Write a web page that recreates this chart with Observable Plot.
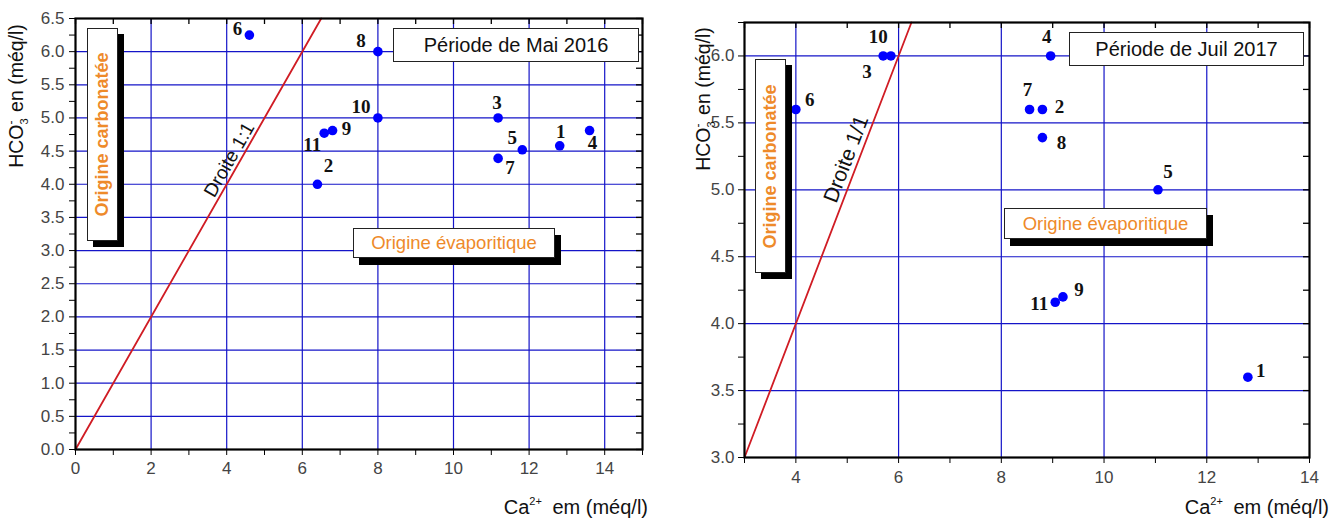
<!DOCTYPE html>
<html>
<head>
<meta charset="utf-8">
<script src="https://cdn.jsdelivr.net/npm/d3@7"></script>
<script src="https://cdn.jsdelivr.net/npm/@observablehq/plot@0.6"></script>
<style>
  html, body { margin: 0; padding: 0; background: #fff; }
  #root { position: relative; width: 1333px; height: 518px; overflow: hidden; background: #fff;
          font-family: "Liberation Sans", Arial, sans-serif; }
  .panel { position: absolute; top: 0; }
  .box { position: absolute; background: #fff; border: 1px solid #222; box-sizing: border-box;
         display: flex; align-items: center; justify-content: center; white-space: nowrap; }
  .shadow { position: absolute; background: #000; }
  .periode { font-size: 20px; color: #111; }
  .evap { font-size: 18.5px; color: #ee8a2a; }
  .carb { font-size: 18px; font-weight: bold; color: #ee8a2a; }
  .ytitle { position: absolute; width: 240px; height: 26px; line-height: 26px; font-size: 19.5px; color: #111;
            transform: rotate(-90deg); text-align: center; white-space: nowrap; }
  .xtitle { position: absolute; font-size: 20px; color: #111; white-space: nowrap; line-height: 24px; }
  .sub { position: relative; font-size: 11px; top: 5px; }
  .sup { position: relative; font-size: 12px; top: -8px; margin-left: -6px; margin-right: 3px; }
  .sup2 { position: relative; font-size: 11px; top: -9px; margin-right: 5px; }
</style>
</head>
<body>
<div id="root"></div>
<script>
// ---------------- Data ----------------
const siteIds = ["1", "2", "3", "4", "5", "6", "7", "8", "9", "10", "11"];

// Période de Mai 2016
const mai2016Ca   = [12.81, 6.4, 11.18, 13.6, 11.82, 4.6, 11.18, 8.0, 6.8, 8.0, 6.58];
const mai2016HCO3 = [4.58, 4.0, 5.0, 4.81, 4.52, 6.25, 4.39, 6.0, 4.81, 5.0, 4.77];

// Période de Juil 2017
const juil2017Ca   = [12.8, 8.8, 5.85, 8.96, 11.05, 4.0, 8.55, 8.8, 9.2, 5.7, 9.05];
const juil2017HCO3 = [3.6, 5.6, 6.0, 6.0, 5.0, 5.6, 5.6, 5.39, 4.2, 6.0, 4.16];

// Tick labels
const mai2016XTicks = [0, 2, 4, 6, 8, 10, 12, 14];
const mai2016YTicks = [0, 0.5, 1, 1.5, 2, 2.5, 3, 3.5, 4, 4.5, 5, 5.5, 6, 6.5];
const juil2017XTicks = [4, 6, 8, 10, 12, 14];
const juil2017YTicks = [3, 3.5, 4, 4.5, 5, 5.5, 6];

// ---------------- Drawing ----------------
const GRID = "#1414c8";
const RED = "#d01c24";

function near(arr, v) { return arr.some(a => Math.abs(a - v) < 1e-9); }

function makePanel(cfg) {
  const { width, height, ml, mr, mt, mb, xDomain, yDomain } = cfg;
  const ux = (xDomain[1] - xDomain[0]) / (width - ml - mr);
  const uy = (yDomain[1] - yDomain[0]) / (height - mt - mb);
  const T = 6;
  const data = siteIds.map((id, i) => ({ id, ca: cfg.ca[i], hco3: cfg.hco3[i] }));
  const xMinor = d3.range(Math.ceil(xDomain[0]), xDomain[1] + 1e-9, 1);
  const yMinor = d3.range(yDomain[0], yDomain[1] + 1e-9, 0.25);
  const xGrid = cfg.xTicks.filter(v => v > xDomain[0] && v < xDomain[1]);
  const yGrid = cfg.yTicks.filter(v => v > yDomain[0] && v < yDomain[1]);
  const lineVals = [Math.max(xDomain[0], yDomain[0]), Math.min(xDomain[1], yDomain[1])];

  const labelMarks = data.map(d => {
    const o = cfg.labelOffsets[d.id];
    return Plot.text([d], {
      x: "ca", y: "hco3", text: "id", dx: o[0], dy: o[1],
      fontFamily: "'Liberation Serif', 'Times New Roman', serif",
      fontWeight: "bold", fontSize: 19, fill: "#111"
    });
  });

  const svg = Plot.plot({
    width, height,
    marginLeft: ml, marginRight: mr, marginTop: mt, marginBottom: mb,
    x: { domain: xDomain },
    y: { domain: yDomain },
    style: { background: "transparent", fontFamily: "'Liberation Sans', Arial, sans-serif", fontSize: "16px", overflow: "visible" },
    marks: [
      Plot.gridX(xGrid, { stroke: GRID, strokeOpacity: 1, strokeWidth: 1.2 }),
      Plot.gridY(yGrid, { stroke: GRID, strokeOpacity: 1, strokeWidth: 1.2 }),
      Plot.line(lineVals, { x: d => d, y: d => d, stroke: RED, strokeWidth: 1.8 }),
      Plot.text([cfg.droite], {
        x: "x", y: "y", text: "label", rotate: cfg.droite.angle,
        fontSize: cfg.droite.size, fill: "#111",
        fontFamily: "'Liberation Sans', Arial, sans-serif"
      }),
      Plot.dot(data, { x: "ca", y: "hco3", r: 4.8, fill: "#0000ff", stroke: null }),
      ...labelMarks,
      Plot.axisX(xMinor, {
        anchor: "bottom", tickSize: T, tickPadding: cfg.xPad, label: null,
        tickFormat: d => near(cfg.xTicks, d) ? String(d) : "",
        stroke: "#000", fill: "#444", fontSize: 17
      }),
      Plot.axisY(yMinor, {
        anchor: "left", tickSize: T, tickPadding: cfg.yPad, label: null,
        tickFormat: d => near(cfg.yTicks, d) ? d.toFixed(1) : "",
        stroke: "#000", fill: "#444", fontSize: 17
      }),
      Plot.ruleX(xMinor, { x: d => d, y1: yDomain[1], y2: yDomain[1] - T * uy, stroke: "#000", strokeWidth: 1.3 }),
      Plot.ruleY(yMinor, { y: d => d, x1: xDomain[1], x2: xDomain[1] - T * ux, stroke: "#000", strokeWidth: 1.3 }),
      Plot.frame({ stroke: "#000", strokeWidth: 2.2 })
    ]
  });
  // enlarge axis tick labels
  d3.select(svg).selectAll("g[aria-label$='tick label']").attr("font-size", 17).style("font-size", "17px");
  return svg;
}

const root = document.getElementById("root");

function addPanel(left, svg) {
  const div = document.createElement("div");
  div.className = "panel";
  div.style.left = left + "px";
  div.appendChild(svg);
  root.appendChild(div);
}

addPanel(0, makePanel({
  width: 660, height: 518, ml: 75, mr: 18, mt: 18, mb: 69,
  xDomain: [0, 15], yDomain: [0, 6.5],
  xTicks: mai2016XTicks, yTicks: mai2016YTicks,
  ca: mai2016Ca, hco3: mai2016HCO3,
  xPad: 6, yPad: 5,
  droite: { x: 4.07, y: 4.37, label: "Droite 1:1", angle: -60.3, size: 19 },
  labelOffsets: {
    "1": [1, -14], "2": [11, -18], "3": [-1, -15], "4": [3, 12], "5": [-10, -12],
    "6": [-12, -6], "7": [12, 9], "8": [-17, -11], "9": [14, -2], "10": [-17, -11], "11": [-12, 12]
  }
}));

addPanel(700, makePanel({
  width: 633, height: 518, ml: 44, mr: 24, mt: 22, mb: 61,
  xDomain: [3, 14], yDomain: [3, 6.25],
  xTicks: juil2017XTicks, yTicks: juil2017YTicks,
  ca: juil2017Ca, hco3: juil2017HCO3,
  xPad: 7, yPad: 4,
  droite: { x: 4.98, y: 5.23, label: "Droite 1/1", angle: -69, size: 21 },
  labelOffsets: {
    "1": [13, -6], "2": [17, -3], "3": [-24, 16], "4": [-4, -19], "5": [10, -18],
    "6": [14, -10], "7": [-2, -20], "8": [19, 5], "9": [16, -7], "10": [-5, -19], "11": [-16, 2]
  }
}));

// ---------------- Annotations (HTML overlays) ----------------
function el(tag, cls, style, html) {
  const e = document.createElement(tag);
  if (cls) e.className = cls;
  Object.assign(e.style, style);
  if (html != null) e.innerHTML = html;
  root.appendChild(e);
  return e;
}
function shadowBox(x, y, w, h, off, cls, text, vertical) {
  el("div", "shadow", { left: (x + off[0]) + "px", top: (y + off[1]) + "px", width: w + "px", height: h + "px" });
  const b = el("div", "box " + cls, { left: x + "px", top: y + "px", width: w + "px", height: h + "px" });
  if (vertical) {
    const s = document.createElement("span");
    s.textContent = text;
    s.style.transform = "rotate(-90deg)";
    s.style.display = "inline-block";
    b.appendChild(s);
  } else {
    b.textContent = text;
  }
}

// Left panel
el("div", "box periode", { left: "393px", top: "28px", width: "246px", height: "34px" }, "Période de Mai 2016");
shadowBox(87, 28, 31, 213, [6, 6], "carb", "Origine carbonatée", true);
shadowBox(353, 228, 202, 30, [6, 7], "evap", "Origine évaporitique", false);

// Right panel
el("div", "box periode", { left: "1069px", top: "32px", width: "235px", height: "34px" }, "Période de Juil 2017");
shadowBox(755, 59, 31, 214, [6, 6], "carb", "Origine carbonatée", true);
shadowBox(1004, 208, 203, 31, [6, 7], "evap", "Origine évaporitique", false);

// Axis titles
const yTitleHTML = 'HCO<span class="sub">3</span><span class="sup">-</span> en (méq/l)';
el("div", "ytitle", { left: (16 - 120) + "px", top: (96 - 13) + "px" }, yTitleHTML);
el("div", "ytitle", { left: (703 - 120) + "px", top: (99 - 13) + "px" }, yTitleHTML);

const xTitleHTML = 'Ca<span class="sup2">2+</span> em (méq/l)';
el("div", "xtitle", { right: (1333 - 648) + "px", top: (507 - 12) + "px" }, xTitleHTML);
el("div", "xtitle", { right: (1333 - 1329) + "px", top: (507 - 12) + "px" }, xTitleHTML);
</script>
</body>
</html>
